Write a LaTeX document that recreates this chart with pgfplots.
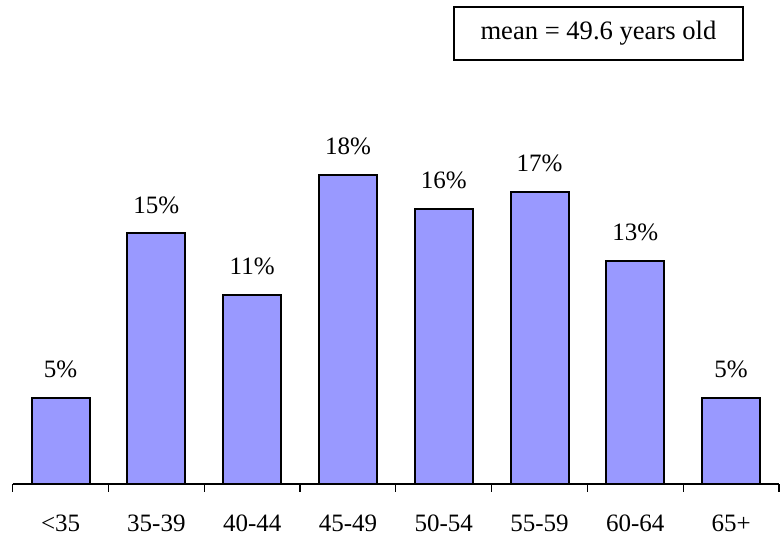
\documentclass[border=0pt]{standalone}
\usepackage{fontspec}
\setmainfont{Liberation Serif}
\usepackage{pgfplots}
\pgfplotsset{compat=1.18}
\definecolor{barblue}{RGB}{153,153,255}

\begin{document}
\fontsize{12.5}{15}\selectfont
\begin{tikzpicture}
    \begin{axis}[
        name=ax,
        scale only axis,
        width=383.2pt,
        height=242pt,
        xmin=-0.5, xmax=7.5,
        ymin=0, ymax=28.17,
        axis y line=none,
        axis x line*=bottom,
        x axis line style={-, line width=0.6pt},
        xtick={0,...,7},
        xticklabels={<35,35-39,40-44,45-49,50-54,55-59,60-64,65+},
        major tick length=0pt,
        minor xtick={-0.5,0.5,...,7.5},
        minor tick length=4pt,
        tick align=outside,
        minor tick style={line width=0.6pt, black},
        xticklabel style={anchor=base, inner sep=0pt, yshift=-23.8pt},
        /pgf/number format/assume math mode=true,
        nodes near coords={\pgfmathprintnumber[fixed,precision=0]{\pgfplotspointmeta}\%},
        nodes near coords style={anchor=south, inner sep=0pt, yshift=9.4pt},
        clip=false,
    ]
    \addplot [ybar, bar width=29pt, fill=barblue, draw=black, line width=1pt]
        coordinates {
        (0,5.0) (1,14.6) (2,11.0) (3,18.0) (4,16.0) (5,17.0) (6,13.0) (7,5.0)
    };
    \end{axis}
    \node [draw, line width=0.9pt, minimum width=144.5pt, minimum height=26.4pt, inner sep=0pt,
           font=\fontsize{13.3}{16}\selectfont]
        at ([xshift=292.9pt, yshift=-16.7pt]ax.north west) {mean = 49.6 years old};
    \path [use as bounding box]
        ([xshift=-6.35pt]ax.north west) rectangle ([xshift=2pt, yshift=-26.5pt]ax.south east);
\end{tikzpicture}
\end{document}
